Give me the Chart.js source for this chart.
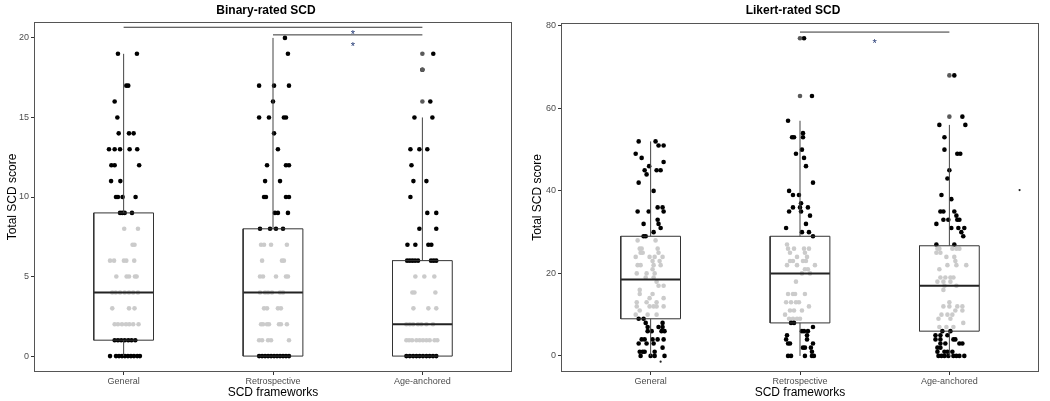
<!DOCTYPE html>
<html>
<head>
<meta charset="utf-8">
<script src="https://cdn.jsdelivr.net/npm/chart.js@4"></script>
<style>
  body { margin: 0; background: #fff; }
  canvas { position: absolute; top: 0; }
</style>
</head>
<body>
<canvas id="binaryChart" width="525" height="401" style="left:0"></canvas>
<canvas id="likertChart" width="525" height="401" style="left:525px"></canvas>
<script>
const frameworks = ['General', 'Retrospective', 'Age-anchored'];

// box stats per framework: [lower whisker, q1, median, q3, upper whisker]
const binaryBoxes = [[0, 1, 4, 9, 19], [0, 0, 4, 8, 20], [0, 0, 2, 6, 15]];
const likertBoxes = [[0, 9, 18.5, 29, 52], [0, 8, 20, 29, 57], [0, 6, 17, 26.7, 56]];

const binaryOutliers = [[], [], [16, 18, 19]];
const likertOutliers = [[], [63, 77], [58, 68]];

const binaryTicks = [0, 5, 10, 15, 20];
const likertTicks = [0, 20, 40, 60, 80];

// significance brackets [from, to, y] and asterisks [x, y]
const binarySigLines = [[1, 3, 20.67], [2, 3, 20.19]];
const binaryStars = [[2.535, 20.4], [2.535, 19.6]];
const likertSigLines = [[2, 3, 78.5]];
const likertStars = [[2.5, 76.4]];

// jittered points: [score, horizontal jitter]
const binGenPts = [
  [19,-0.038],[19,0.089],[17,0.018],[17,0.031],[16,-0.06],[15,-0.042],
  [14,-0.033],[14,0.036],[14,0.067],
  [13,-0.098],[13,-0.06],[13,-0.024],[13,0.04],[13,0.091],
  [12,-0.082],[12,-0.06],[12,0.104],[11,-0.084],[11,-0.022],
  [10,-0.051],[10,-0.038],[10,-0.007],[10,0.08],
  [9,-0.024],[9,-0.009],[9,0.007],[9,0.056],
  [8,0.004],[8,0.096],[7,0.06],[7,0.073],
  [6,-0.091],[6,-0.064],[6,0.002],[6,0.018],[6,0.071],
  [5,-0.049],[5,0.02],[5,0.036],[5,0.076],[5,0.087],
  [4,-0.076],[4,-0.053],[4,-0.024],[4,0.007],[4,0.036],[4,0.064],[4,0.096],
  [3,-0.076],[3,0.036],[3,0.073],
  [2,-0.06],[2,-0.038],[2,-0.011],[2,0.016],[2,0.038],[2,0.064],[2,0.1],
  [1,-0.06],[1,-0.038],[1,-0.016],[1,0.007],[1,0.031],[1,0.053],[1,0.078],
  [0,-0.091],[0,-0.051],[0,-0.031],[0,-0.011],[0,0.009],[0,0.029],[0,0.049],[0,0.069],[0,0.091],[0,0.109]
];
const binRetPts = [
  [20,0.08],[19,0.1],[17,-0.093],[17,0.007],[17,0.107],[16,0],
  [15,-0.093],[15,-0.027],[15,0.073],[15,0.087],[14,0.007],[13,0.033],
  [12,-0.04],[12,0.087],[12,0.107],[11,-0.053],[11,0.047],
  [10,-0.06],[10,-0.047],[10,0.087],[10,0.107],
  [9,0.013],[9,0.033],[9,0.1],
  [8,-0.087],[8,-0.02],[8,0.02],[8,0.067],
  [7,-0.08],[7,-0.06],[7,-0.013],[7,0.093],
  [6,-0.073],[6,0.06],[6,0.073],
  [5,-0.087],[5,-0.067],[5,0.02],[5,0.087],[5,0.1],
  [4,-0.087],[4,-0.053],[4,-0.033],[4,-0.007],[4,0.047],[4,0.067],
  [3,-0.06],[3,-0.04],[3,0.033],[3,0.053],
  [2,-0.08],[2,-0.067],[2,-0.04],[2,-0.027],[2,0.04],[2,0.053],[2,0.093],
  [1,-0.093],[1,-0.073],[1,-0.033],[1,-0.013],[1,0.107],
  [0,-0.093],[0,-0.073],[0,-0.053],[0,-0.033],[0,-0.013],[0,0.007],[0,0.027],[0,0.047],[0,0.067],[0,0.087],[0,0.107]
];
const binAgePts = [
  [19,0.073],[18,0],[16,0.053],[15,-0.053],[15,0.067],
  [13,-0.08],[13,-0.02],[13,0.033],[12,-0.073],[11,-0.06],[11,0.027],[10,-0.08],
  [9,0.033],[9,0.093],[8,-0.02],[8,0.093],
  [7,-0.1],[7,-0.047],[7,0.04],[7,0.06],
  [6,-0.102],[6,-0.084],[6,-0.067],[6,-0.049],[6,-0.029],[6,0.058],[6,0.076],[6,0.093],
  [5,-0.047],[5,0.013],[5,0.08],
  [4,-0.067],[4,-0.053],[4,0.087],
  [3,-0.06],[3,0.04],[3,0.093],
  [2,-0.107],[2,-0.084],[2,-0.062],[2,-0.029],[2,-0.007],[2,0.027],[2,0.071],
  [1,-0.107],[1,-0.089],[1,-0.069],[1,-0.04],[1,-0.018],[1,0.004],[1,0.027],[1,0.049],[1,0.082],[1,0.1],
  [0,-0.107],[0,-0.084],[0,-0.062],[0,-0.04],[0,-0.018],[0,0.004],[0,0.027],[0,0.049],[0,0.071],[0,0.093]
];

const likGenPts = [
  [52,-0.08],[52,0.033],[51,0.053],[51,0.087],[49,-0.1],[48,-0.06],[47,0.087],[46,-0.01],
  [45,-0.04],[45,0.04],[45,0.067],[44,-0.027],[42,-0.08],[40,0.02],
  [36,0.047],[36,0.08],[35,-0.087],[35,-0.013],[35,0.087],[33,0.047],[32,-0.047],[32,0.053],[31,0.067],[30,0.02],
  [29,-0.047],[29,-0.033],
  [28,-0.087],[28,0.033],[26,-0.073],[26,-0.06],[26,0.047],[25,-0.067],[25,-0.053],[25,0.053],
  [24,-0.1],[24,-0.007],[24,0.027],[24,0.08],[23,0.013],[23,0.06],
  [22,-0.087],[22,-0.067],[22,0.02],[22,0.067],[21,0.013],[20,-0.093],[20,-0.027],[20,0.027],
  [19,-0.033],[19,0.02],[18,0.04],[17,0.053],[17,0.087],[16,-0.073],[15,-0.073],[15,0.013],
  [14,-0.007],[14,0.087],[13,-0.093],[13,-0.027],[13,0.04],
  [12,-0.093],[12,-0.007],[12,0.02],[12,0.04],[12,0.087],[11,-0.073],[10,-0.1],[10,-0.02],[10,0.04],
  [9,-0.08],[9,-0.047],[8,-0.033],[8,0.08],[7,-0.02],[7,0.053],[7,0.08],
  [6,-0.02],[6,0.007],[6,0.073],[6,0.093],
  [4,-0.06],[4,-0.04],[4,0.013],[4,0.047],[4,0.087],[3,-0.08],[3,-0.027],[3,0.02],[2,0.08],
  [1,-0.073],[1,-0.053],[1,-0.04],[1,0.027],[0,-0.067],[0,0],[0,0.027],[0,0.093]
];
const likRetPts = [
  [77,0.027],[63,0.08],[57,-0.08],[54,0.02],[53,-0.053],[53,-0.04],[53,0.02],[50,0.013],[49,-0.027],[48,0.027],[46,0.04],[42,0.087],
  [40,-0.073],[39,-0.047],[39,-0.007],[37,0.007],[36,-0.047],[36,0],[36,0.053],[35,-0.073],[35,0.007],[34,0.067],[32,0.04],[31,-0.093],[30,0.013],[30,0.06],[29,0.087],
  [27,-0.087],[26,-0.08],[26,-0.04],[26,0.027],[26,0.06],[25,-0.067],[25,0.033],[24,-0.02],[24,0.047],
  [23,-0.067],[23,-0.047],[23,0.02],[23,0.04],[22,-0.087],[22,-0.02],[22,0.1],[21,0.033],[21,0.053],[20,0.013],[20,0.067],[18,-0.027],
  [15,-0.08],[15,-0.047],[15,-0.033],[15,0.033],[13,-0.093],[13,-0.06],[13,-0.027],[13,-0.007],[12,0.06],
  [11,-0.067],[11,-0.04],[11,0.013],[10,-0.1],[9,-0.073],[9,-0.047],[9,-0.02],[9,0],
  [8,-0.06],[8,-0.04],[7,0.087],[6,0.013],[6,0.027],[6,0.053],[5,-0.087],[5,0.047],[4,-0.093],[4,0.047],
  [3,-0.08],[3,-0.067],[3,0.087],[2,0.02],[2,0.033],[2,0.073],[1,0.08],
  [0,-0.08],[0,-0.06],[0,0.033],[0,0.08],[0,0.093]
];
const likAgePts = [
  [68,0.033],[58,0.087],[56,-0.067],[56,0.107],[53,-0.033],[50,-0.033],[49,0.053],[49,0.073],[45,0],[43,-0.013],[39,-0.053],[38,0.013],
  [35,-0.06],[35,-0.04],[35,0.033],[34,0.047],[33,-0.04],[33,-0.007],[33,0.053],[33,0.067],[32,-0.087],[31,0.013],[31,0.06],[31,0.1],[30,0.08],[29,0.093],
  [27,-0.087],[27,0.033],
  [26,-0.08],[26,-0.067],[26,0.02],[26,0.047],[26,0.067],[25,-0.087],[25,-0.06],[24,-0.02],[24,0.033],[23,0.04],
  [22,-0.013],[22,0.047],[22,0.113],[21,-0.067],[19,-0.06],[19,-0.027],[19,0.007],[19,0.027],[18,-0.08],[18,-0.04],[18,0.007],
  [17,-0.033],[17,0.047],[16,-0.04],[13,0],[12,-0.04],[12,0],[12,0.053],[12,0.087],[11,0.04],[11,0.087],
  [10,-0.053],[10,-0.013],[10,0.02],[9,-0.073],[9,0.007],[8,0.093],[7,-0.067],[7,-0.02],[7,0.027],
  [6,-0.047],[6,0.007],[5,-0.093],[5,-0.06],[5,-0.013],[4,-0.093],[4,-0.06],[4,0.027],[4,0.04],
  [3,-0.06],[3,-0.027],[3,0.067],[3,0.087],[2,-0.08],[2,-0.06],[1,-0.08],[1,-0.033],[1,-0.013],[1,0.02],
  [0,-0.073],[0,-0.053],[0,-0.033],[0,-0.007],[0,0.027],[0,0.047],[0,0.067],[0,0.1]
];
// two tiny stray marks on the Likert panel [x, y]
const likertStray = [[3.47, 40.2], [1.067, -1.4]];

const FONT = 'Liberation Sans, Arial, sans-serif';

function line(data, width, color) {
  return { type: 'scatter', data: data, showLine: true, pointRadius: 0, borderColor: color,
           borderWidth: width, fill: false, order: 0 };
}

function buildDatasets(boxes, groups, outliers, sigLines, stray) {
  const ds = [];
  const w = 0.2;
  boxes.forEach((b, i) => {
    const c = i + 1;
    const [lo, q1, med, q3, hi] = b;
    ds.push(line([{x: c, y: q3}, {x: c, y: hi}], 1, '#444'));
    if (q1 > lo) ds.push(line([{x: c, y: lo}, {x: c, y: q1}], 1, '#444'));
    ds.push(line([{x: c - w, y: q1}, {x: c + w, y: q1}, {x: c + w, y: q3}, {x: c - w, y: q3}, {x: c - w, y: q1}], 1, '#333'));
    ds.push(line([{x: c - w, y: med}, {x: c + w, y: med}], 2, '#222'));
  });
  sigLines.forEach(s => ds.push(line([{x: s[0], y: s[2]}, {x: s[1], y: s[2]}], 1, '#333')));

  groups.forEach((pts, i) => {
    const q1 = boxes[i][1], q3 = boxes[i][3];
    ds.push({
      type: 'scatter',
      data: pts.map(p => ({x: i + 1 + p[1], y: p[0]})),
      pointRadius: 2.3,
      borderWidth: 0,
      pointBackgroundColor: pts.map(p => (p[0] > q1 && p[0] < q3) ? '#cbcbcb' : '#000'),
      order: 2
    });
  });
  outliers.forEach((vals, i) => {
    if (!vals.length) return;
    ds.push({
      type: 'scatter',
      data: vals.map(v => ({x: i + 1, y: v})),
      pointRadius: 2.3, borderWidth: 0, pointBackgroundColor: '#5a5a5a', order: 1
    });
  });
  if (stray) {
    ds.push({
      type: 'scatter',
      data: stray.map(p => ({x: p[0], y: p[1]})),
      pointRadius: 1.1, borderWidth: 0, pointBackgroundColor: '#222', order: 1
    });
  }
  return ds;
}

const panelPlugin = {
  id: 'panel',
  afterDatasetsDraw(chart, args, opts) {
    const {ctx, chartArea: a, scales} = chart;
    ctx.save();
    ctx.strokeStyle = '#555';
    ctx.lineWidth = 1;
    ctx.strokeRect(a.left + 0.5, a.top + 0.5, a.right - a.left - 1, a.bottom - a.top - 1);
    ctx.fillStyle = '#1e3470';
    ctx.font = '11px ' + FONT;
    ctx.textAlign = 'center';
    ctx.textBaseline = 'middle';
    opts.stars.forEach(s => {
      ctx.fillText('*', scales.x.getPixelForValue(s[0]), scales.y.getPixelForValue(s[1]) + 3);
    });
    ctx.fillStyle = '#000';
    ctx.font = 'bold 12px ' + FONT;
    ctx.fillText(opts.title, (a.left + a.right) / 2 - 7, 11);
    ctx.restore();
  }
};

function createPanel(canvasId, title, boxes, groups, outliers, ticks, yMin, yMax, sigLines, stars, stray, yWidth, padRight, padTop) {
  const ctx = document.getElementById(canvasId).getContext('2d');
  new Chart(ctx, {
    type: 'scatter',
    data: { datasets: buildDatasets(boxes, groups, outliers, sigLines, stray) },
    options: {
      responsive: false,
      animation: false,
      events: [],
      layout: { padding: { left: 0, right: padRight, top: padTop, bottom: 0 } },
      plugins: {
        legend: { display: false },
        tooltip: { enabled: false },
        panel: { title: title, stars: stars }
      },
      scales: {
        x: {
          type: 'linear',
          min: 0.4,
          max: 3.6,
          afterBuildTicks: s => { s.ticks = [1, 2, 3].map(v => ({value: v})); },
          afterFit: s => { s.height = 29; },
          ticks: {
            autoSkip: false, maxRotation: 0, padding: 1,
            color: '#4d4d4d', font: { size: 9, family: FONT },
            callback: v => frameworks[v - 1]
          },
          grid: { display: true, drawOnChartArea: false, drawTicks: true, tickLength: 3, color: '#333' },
          border: { display: false },
          title: { display: true, text: 'SCD frameworks', color: '#000',
                   font: { size: 12, family: FONT }, padding: { top: 0, bottom: 1 } }
        },
        y: {
          min: yMin,
          max: yMax,
          afterBuildTicks: s => { s.ticks = ticks.map(v => ({value: v})); },
          afterFit: s => { s.width = yWidth; },
          ticks: { padding: 2, color: '#4d4d4d', font: { size: 9, family: FONT } },
          grid: { display: true, drawOnChartArea: false, drawTicks: true, tickLength: 3, color: '#333' },
          border: { display: false },
          title: { display: true, text: 'Total SCD score', color: '#000',
                   font: { size: 12, family: FONT }, padding: { top: 5, bottom: 0 } }
        }
      }
    },
    plugins: [panelPlugin]
  });
}

createPanel('binaryChart', 'Binary-rated SCD', binaryBoxes, [binGenPts, binRetPts, binAgePts], binaryOutliers,
            binaryTicks, -1, 21, binarySigLines, binaryStars, null, 34, 13, 22);
createPanel('likertChart', 'Likert-rated SCD', likertBoxes, [likGenPts, likRetPts, likAgePts], likertOutliers,
            likertTicks, -3.9, 80.7, likertSigLines, likertStars, likertStray, 36, 11, 23);
</script>
</body>
</html>
